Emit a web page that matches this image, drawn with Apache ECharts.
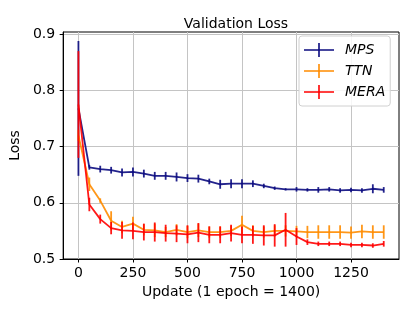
<!DOCTYPE html>
<html><head><meta charset="utf-8">
<script src="https://cdn.jsdelivr.net/npm/echarts@6/dist/echarts.min.js"></script>
<style>html,body{margin:0;padding:0;background:#fff}#c{width:415px;height:311px}</style>
</head><body><div id="c"></div>
<script>
const updates = [0,50,100,150,200,250,300,350,400,450,500,550,600,650,700,750,800,850,900,950,1000,1050,1100,1150,1200,1250,1300,1350,1400];
const mps    = [0.768,0.663,0.660,0.658,0.654,0.655,0.652,0.648,0.648,0.646,0.644,0.643,0.638,0.633,0.634,0.634,0.634,0.630,0.626,0.624,0.624,0.623,0.623,0.624,0.622,0.623,0.622,0.625,0.623];
const mpsErr = [0.120,0.004,0.006,0.006,0.007,0.008,0.007,0.007,0.007,0.008,0.007,0.007,0.005,0.008,0.008,0.008,0.006,0.004,0.003,0.002,0.004,0.003,0.005,0.004,0.004,0.004,0.004,0.008,0.005];
const ttn    = [0.720,0.633,0.604,0.568,0.557,0.563,0.552,0.551,0.548,0.552,0.548,0.551,0.548,0.548,0.550,0.561,0.550,0.548,0.550,0.550,0.549,0.548,0.548,0.548,0.548,0.547,0.549,0.548,0.548];
const ttnErr = [0.010,0.012,0.004,0.017,0.011,0.012,0.010,0.012,0.009,0.010,0.011,0.012,0.010,0.010,0.009,0.016,0.010,0.010,0.010,0.010,0.010,0.011,0.012,0.012,0.012,0.011,0.012,0.012,0.012];
const mera    = [0.775,0.597,0.571,0.555,0.551,0.550,0.548,0.548,0.546,0.545,0.544,0.547,0.543,0.543,0.546,0.543,0.543,0.542,0.542,0.552,0.540,0.530,0.527,0.527,0.527,0.525,0.525,0.524,0.527];
const meraErr = [0.095,0.012,0.008,0.011,0.015,0.015,0.015,0.017,0.015,0.015,0.016,0.017,0.015,0.015,0.015,0.015,0.016,0.018,0.020,0.030,0.015,0.005,0.004,0.004,0.004,0.004,0.004,0.004,0.005];
const names = ['MPS','TTN','MERA'];
const colors = ['#0b0b80','#ff8c00','#ff0000'];
const xTicks = [0,250,500,750,1000,1250];
const yTicks = [0.5,0.6,0.7,0.8,0.9];

const font = 'DejaVu Sans';
const gridColor = '#c4c4c4';
const chart = echarts.init(document.getElementById('c'));
const sets = [[mps,mpsErr],[ttn,ttnErr],[mera,meraErr]];
const series = [{
  name:'grid', type:'line', data:[], z:0, silent:true,
  markLine:{
    z:0, silent:true, symbol:['none','none'], animation:false,
    label:{show:false},
    lineStyle:{color:gridColor, width:1, type:'solid'},
    emphasis:{disabled:true},
    data: xTicks.map(v=>({xAxis:v})).concat(yTicks.slice(1).map(v=>({yAxis:v})))
  }
}];
sets.forEach(([v,e],i)=>{
  series.push({
    name: names[i]+' err', type:'custom', z: 2+i*2,
    data: updates.map((x,k)=>[x, v[k]-e[k], v[k]+e[k]]),
    renderItem: (params, api) => {
      const p1 = api.coord([api.value(0), api.value(1)]);
      const p2 = api.coord([api.value(0), api.value(2)]);
      return {type:'line', shape:{x1:p1[0],y1:p1[1],x2:p2[0],y2:p2[1]},
        style:{stroke:colors[i], lineWidth:1.8, opacity:0.9}};
    },
    clip: true, silent: true
  });
  series.push({
    name: names[i], type:'line', z: 3+i*2,
    data: updates.map((x,k)=>[x, v[k]]),
    showSymbol:false, symbol:'none',
    lineStyle:{color:colors[i], width:1.8, opacity:0.9},
    itemStyle:{color:colors[i]},
    animation:false
  });
});

chart.setOption({
  animation:false,
  title:{text:'Validation Loss', left:231, top:12, textAlign:'center',
    textStyle:{fontFamily:font, fontSize:14, fontWeight:'normal', color:'#000'}},
  grid:{left:62, right:16, top:32, bottom:52, show:true, borderColor:'#000', borderWidth:1},
  legend:{
    z:20, data: names, left:299, top:36, orient:'vertical', itemGap:7,
    itemWidth:30, itemHeight:14, padding:[7,5,7,5],
    borderColor:'#d0d0d0', borderWidth:1, borderRadius:3, backgroundColor:'rgba(255,255,255,0.85)',
    icon:'path://M0,6.2 H30 V7.8 H0 Z M14.2,0 H15.8 V14 H14.2 Z',
    textStyle:{fontFamily:font, fontSize:14, fontStyle:'italic', color:'#000', padding:[0,0,0,6]}
  },
  xAxis:{type:'value', min:-70, max:1470,
    name:'Update (1 epoch = 1400)', nameLocation:'middle', nameGap:25,
    nameTextStyle:{fontFamily:font, fontSize:14, color:'#000'},
    axisLine:{show:true, onZero:false, lineStyle:{color:'#000'}},
    axisTick:{show:true, length:3.5, customValues:xTicks, lineStyle:{color:'#000'}},
    axisLabel:{customValues:xTicks, fontFamily:font, fontSize:14, color:'#000', margin:7,
      formatter:v=>String(v)},
    splitLine:{show:false}
  },
  yAxis:{type:'value', min:0.5, max:0.904,
    name:'Loss', nameLocation:'middle', nameGap:33, nameRotate:90,
    nameTextStyle:{fontFamily:font, fontSize:14, color:'#000'},
    axisLine:{show:true, onZero:false, lineStyle:{color:'#000'}},
    axisTick:{show:true, length:3.5, customValues:yTicks, lineStyle:{color:'#000'}},
    axisLabel:{customValues:yTicks, fontFamily:font, fontSize:14, color:'#000', margin:8,
      formatter:v=>v.toFixed(1)},
    splitLine:{show:false}
  },
  series: series
});
</script></body></html>
